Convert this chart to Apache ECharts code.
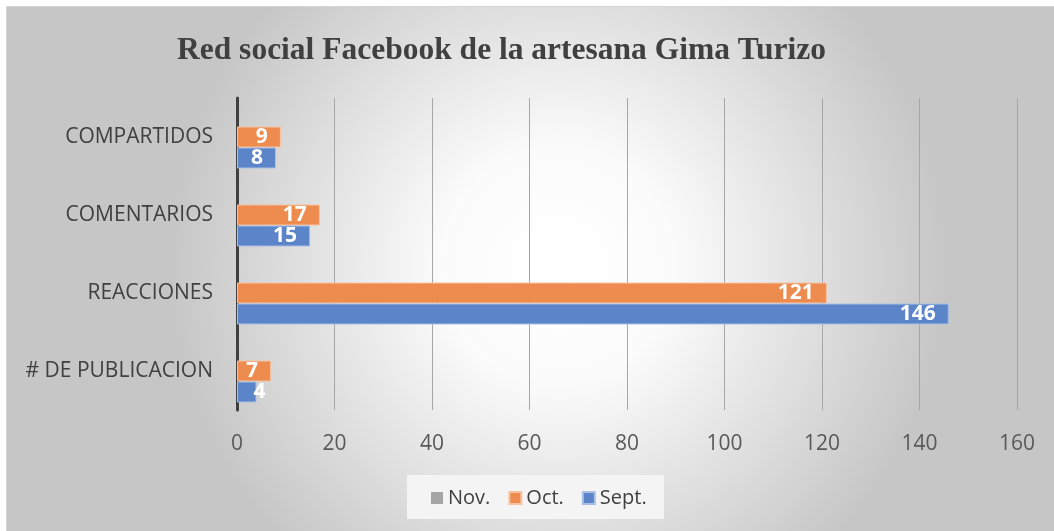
<!DOCTYPE html>
<html>
<head>
<meta charset="utf-8">
<script src="https://cdn.jsdelivr.net/npm/echarts@6/dist/echarts.min.js"></script>
<style>
  html, body { margin: 0; padding: 0; background: #fff; }
  #chart { width: 1054px; height: 531px; }
</style>
</head>
<body>
<div id="chart"></div>
<script>
const categories = ["# DE PUBLICACION", "REACCIONES", "COMENTARIOS", "COMPARTIDOS"];
const septValues = [4, 146, 15, 8];
const octValues = [7, 121, 17, 9];
const novValues = [null, null, null, null];
const axisTicks = [0, 20, 40, 60, 80, 100, 120, 140, 160];

const chart = echarts.init(document.getElementById("chart"));

const barLabel = {
  show: true,
  position: "insideRight",
  distance: 13,
  color: "#fff",
  fontFamily: "Open Sans",
  fontWeight: "bold",
  fontSize: 21,
  lineHeight: 21,
};

// barras muy cortas: la etiqueta se sale un poco por el extremo
const withLabels = (values) =>
  values.map((v) =>
    v !== null && v < 5 ? { value: v, label: { position: "right", distance: -3 } } : v
  );

chart.setOption({
  animation: false,
  graphic: [
    {
      type: "rect",
      z: -10,
      silent: true,
      shape: { x: 6.5, y: 6.5, width: 1060, height: 540 },
      style: {
        fill: new echarts.graphic.RadialGradient(0.52, 0.48, 0.72, [
          { offset: 0, color: "#ffffff" },
          { offset: 0.3, color: "#fbfbfb" },
          { offset: 1, color: "#c6c6c6" },
        ]),
        stroke: "#d4d4d4",
        lineWidth: 1,
      },
    },
    {
      // fondo de la leyenda
      type: "rect",
      z: -5,
      silent: true,
      shape: { x: 407, y: 475, width: 257, height: 44 },
      style: { fill: "#f4f4f4" },
    },
  ],
  title: {
    text: "Red social Facebook de la artesana Gima Turizo",
    left: 172,
    top: 30,
    textStyle: {
      fontFamily: "Liberation Serif",
      fontWeight: "bold",
      fontSize: 31.5,
      color: "#404040",
    },
  },
  legend: {
    data: ["Nov.", "Oct.", "Sept."],
    left: 426,
    top: 483,
    itemWidth: 12,
    itemHeight: 12,
    itemGap: 18,
    icon: "rect",
    textStyle: {
      fontFamily: "Open Sans",
      fontSize: 20,
      color: "#404040",
      padding: [0, 0, 0, 0],
    },
  },
  grid: {
    left: 237,
    right: 37,
    top: 98,
    bottom: 121,
  },
  xAxis: {
    type: "value",
    min: 0,
    max: 160,
    interval: 20,
    axisLine: { show: false },
    axisTick: { show: false },
    axisLabel: {
      margin: 24,
      fontFamily: "Open Sans",
      fontSize: 21,
      color: "#595959",
      formatter: (v) => (axisTicks.includes(v) ? String(v) : ""),
    },
    splitLine: { lineStyle: { color: "#a6a6a6", width: 1 } },
  },
  yAxis: {
    type: "category",
    data: categories,
    axisTick: { show: false },
    axisLine: { show: true, onZero: false, lineStyle: { color: "#404040", width: 3 } },
    axisLabel: {
      margin: 24,
      fontFamily: "Open Sans",
      fontSize: 21,
      color: "#404040",
    },
  },
  series: [
    {
      name: "Nov.",
      type: "bar",
      data: novValues,
      barWidth: 21,
      barGap: "0%",
      itemStyle: { color: "#a5a5a5" },
      label: barLabel,
    },
    {
      name: "Oct.",
      type: "bar",
      data: withLabels(octValues),
      barWidth: 21,
      barGap: "0%",
      itemStyle: { color: "#ed8c4e", borderColor: "#f6c3a2", borderWidth: 1 },
      label: barLabel,
    },
    {
      name: "Sept.",
      type: "bar",
      data: withLabels(septValues),
      barWidth: 21,
      barGap: "0%",
      itemStyle: { color: "#5b84c9", borderColor: "#a9bfe4", borderWidth: 1 },
      label: barLabel,
    },
  ],
});
</script>
</body>
</html>
